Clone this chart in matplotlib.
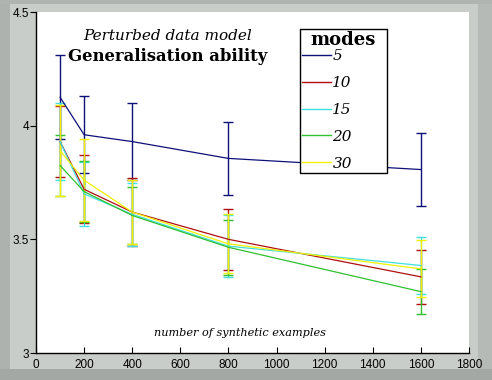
import matplotlib
matplotlib.use("Agg")
import matplotlib.pyplot as plt
from matplotlib.patches import Rectangle
from matplotlib.lines import Line2D

# === Data ===
n_examples = [100, 200, 400, 800, 1600]
mode_labels = ['5', '10', '15', '20', '30']
mean_5 = [4.125, 3.96, 3.93, 3.856, 3.807]
err_5 = [0.185, 0.17, 0.17, 0.16, 0.16]
mean_10 = [3.93, 3.72, 3.62, 3.50, 3.335]
err_10 = [0.155, 0.15, 0.15, 0.135, 0.12]
mean_15 = [3.93, 3.70, 3.61, 3.47, 3.385]
err_15 = [0.17, 0.14, 0.14, 0.135, 0.125]
mean_20 = [3.825, 3.71, 3.605, 3.465, 3.27]
err_20 = [0.135, 0.135, 0.125, 0.12, 0.10]
mean_30 = [3.89, 3.76, 3.62, 3.48, 3.37]
err_30 = [0.20, 0.18, 0.14, 0.13, 0.125]
xticks = [0, 200, 400, 600, 800, 1000, 1200, 1400, 1600, 1800]
yticks = [3, 3.5, 4, 4.5]
ytick_labels = ['3', '3.5', '4', '4.5']

means = [mean_5, mean_10, mean_15, mean_20, mean_30]
errs = [err_5, err_10, err_15, err_20, err_30]
colors = ['#10107a', '#b01010', '#40e0e0', '#30c030', '#f0f000']

fig = plt.figure(figsize=(4.92, 3.80), dpi=100, facecolor='#c9cdc9')

# bevelled grey frame
for (x0, y0, w, h, fc) in [(0, 0, 0.02, 1, '#aeb2ae'),
                           (0.972, 0, 0.028, 1, '#b6bab6'),
                           (0, 0, 1, 0.03, '#a4a8a4'),
                           (0, 0.99, 1, 0.01, '#b0b4b0')]:
    fig.patches.append(Rectangle((x0, y0), w, h, transform=fig.transFigure,
                                 facecolor=fc, edgecolor='none', zorder=-10))

ax = fig.add_axes([36 / 492, 27 / 380, 433 / 492, 341 / 380])
ax.set_facecolor('white')

for m, e, c, lab in zip(means, errs, colors, mode_labels):
    ax.errorbar(n_examples, m, yerr=e, color=c, ecolor=c, linewidth=0.9,
                elinewidth=1.0, capsize=3.3, capthick=1.0, label=lab)

ax.set_xlim(0, 1800)
ax.set_ylim(3, 4.5)
ax.set_xticks(xticks)
ax.set_yticks(yticks)
ax.set_yticklabels(ytick_labels)
ax.tick_params(axis='x', direction='in', length=4, labelsize=8.5, pad=4)
ax.tick_params(axis='y', direction='out', length=4, labelsize=8.5, pad=1)
for lbl in ax.get_xticklabels() + ax.get_yticklabels():
    lbl.set_fontfamily('Liberation Sans')
ax.spines['top'].set_visible(False)
ax.spines['right'].set_visible(False)
ax.spines['left'].set_linewidth(1.0)
ax.spines['bottom'].set_linewidth(1.0)

ax.text(0.305, 0.93, 'Perturbed data model', transform=ax.transAxes,
        ha='center', va='center', fontsize=11, style='italic', family='DejaVu Serif')
ax.text(0.305, 0.87, 'Generalisation ability', transform=ax.transAxes,
        ha='center', va='center', fontsize=11.9, fontweight='bold', family='DejaVu Serif')
ax.text(0.47, 0.06, 'number of synthetic examples', transform=ax.transAxes,
        ha='center', va='center', fontsize=8.1, style='italic', family='DejaVu Serif')

handles = [Line2D([], [], color=c, linewidth=1.0) for c in colors]
leg = ax.legend(handles, mode_labels, loc='upper left',
                bbox_to_anchor=(0.6097, 0.0, 0.201, 0.950), mode='expand',
                borderaxespad=0, title='modes', fancybox=False, framealpha=1,
                edgecolor='black', handlelength=1.9, handletextpad=0.1,
                labelspacing=0.85, borderpad=0.12,
                prop={'family': 'DejaVu Serif', 'style': 'italic', 'size': 11},
                title_fontproperties={'family': 'DejaVu Serif', 'weight': 'bold', 'size': 13})
leg.get_frame().set_linewidth(1.0)
leg._legend_box.sep = 0

fig.savefig('out.png', dpi=100, facecolor=fig.get_facecolor())
